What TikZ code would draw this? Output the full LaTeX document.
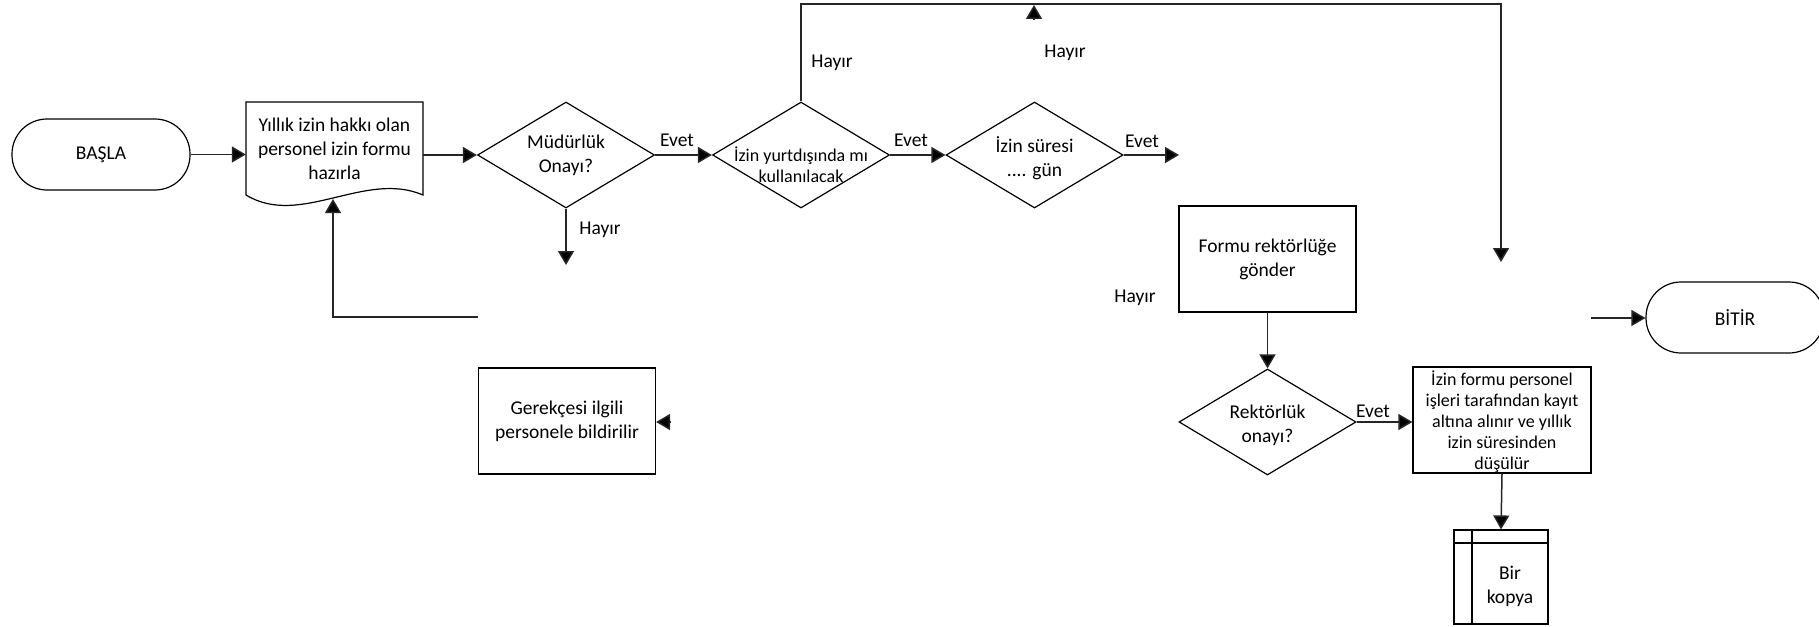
\documentclass[tikz,border=0pt]{standalone}
\usepackage{fontspec}
\setmainfont{Carlito}
\usetikzlibrary{shapes.geometric,arrows.meta}
\begin{document}
\begin{tikzpicture}[x=1pt,y=-1pt,
  conn/.style={draw=black!85, line width=1.5pt, -{Triangle[length=14pt,width=16pt,fill=black]}},
  shp/.style={draw=black, line width=1.2pt},
  term/.style={shp, rounded corners=35pt, minimum width=178pt, minimum height=71pt, inner sep=0pt, font=\fontsize{19.5}{24}\selectfont},
  proc/.style={shp, minimum width=177pt, minimum height=106pt, inner sep=0pt, align=center, font=\fontsize{19.5}{24}\selectfont},
  dia/.style={shp, diamond, minimum width=177pt, minimum height=106pt, inner sep=0pt},
  txt/.style={align=center, inner sep=0pt, font=\fontsize{19.5}{24}\selectfont},
  small/.style={align=center, inner sep=0pt, font=\fontsize{18}{21}\selectfont},
  lab/.style={inner sep=0pt, font=\fontsize{19.5}{24}\selectfont}]
\useasboundingbox (0,0) rectangle (1819,626);

% nodes
\node[term] (start) at (101,154.5) {BAŞLA};
\node[minimum width=177pt, minimum height=93pt, inner sep=0pt] (doc) at (334.5,148.5) {};
\draw[shp] (246,195) -- (246,102) -- (423,102) -- (423,195)
  .. controls (365,170) and (300,228) .. (246,195);
\node[txt] (doctxt) at (334.5,149) {Yıllık izin hakkı olan\\personel izin formu\\hazırla};

\node[dia] (d1) at (566,155) {};
\node[txt] (d1t) at (566,155) {Müdürlük\\Onayı?};
\node[dia] (d2) at (801,155) {};
\node[small] (d2t) at (801,165) {İzin yurtdışında mı\\kullanılacak};
\node[dia] (d3) at (1034.5,155) {};
\node[txt] (d3t) at (1034.5,158) {İzin süresi\\.... gün};

\node[proc] (ger) at (567,421) {Gerekçesi ilgili\\personele bildirilir};
\node[proc] (rek) at (1267.5,259) {Formu rektörlüğe\\gönder};
\node[dia] (d4) at (1267.5,422) {};
\node[txt] (d4t) at (1267.5,425) {Rektörlük\\onayı?};
\node[shp, minimum width=178pt, minimum height=106pt, inner sep=0pt] (kay) at (1502,420) {};
\node[small] (kayt) at (1502,421.5) {İzin formu personel\\işleri tarafından kayıt\\altına alınır ve yıllık\\izin süresinden\\düşülür};
\node[shp, minimum width=94pt, minimum height=94pt, inner sep=0pt] (kop) at (1501,577) {};
\draw[shp] (1472,530) -- (1472,624);
\draw[shp] (1454,543) -- (1548,543);
\node[txt] (kopt) at (1510,586) {Bir\\kopya};
\node[term] (end) at (1735,317.5) {BİTİR};

% labels
\node[lab] (e1) at (677,140) {Evet};
\node[lab] (e2) at (911,140) {Evet};
\node[lab] (e3) at (1142,141) {Evet};
\node[lab] (e4) at (1373,411) {Evet};
\node[lab] (h1) at (600,230) {Hayır};
\node[lab] (h2) at (832,63) {Hayır};
\node[lab] (h3) at (1065,53) {Hayır};
\node[lab] (h4) at (1135,298) {Hayır};

% coordinates
\coordinate (d3out) at (1179,155);
\coordinate (d1down) at (566,265);
\coordinate (fbstart) at (478,317);
\coordinate (fbcorner) at (333,317);
\coordinate (docbot) at (333,199);
\coordinate (topl) at (801,4);
\coordinate (topr) at (1501,4);
\coordinate (downend) at (1501,262);
\coordinate (upbase) at (1034,20);
\coordinate (uptip) at (1034,5);
\coordinate (gerin) at (671,422);
\coordinate (endin) at (1591,318);

% connectors
\draw[conn] (start.east) -- (start.east -| doc.west);
\draw[conn] (doc.east |- d1.west) -- (d1.west);
\draw[conn] (d1.east) -- (d2.west);
\draw[conn] (d2.east) -- (d3.west);
\draw[conn] (d3.east) -- (d3out);
\draw[conn] (d1.south) -- (d1down);
\draw[conn] (fbstart) -- (fbcorner) -- (docbot);
\draw[conn] (d2.north) -- (topl) -- (topr) -- (downend);
\draw[conn] (upbase) -- (uptip);
\draw[conn] (gerin) -- (gerin -| ger.east);
\draw[conn] (rek.south) -- (d4.north);
\draw[conn] (d4.east) -- (d4.east -| kay.west);
\draw[conn] (kay.south) -- (kop.north);
\draw[conn] (endin) -- (endin -| end.west);
\end{tikzpicture}
\end{document}
